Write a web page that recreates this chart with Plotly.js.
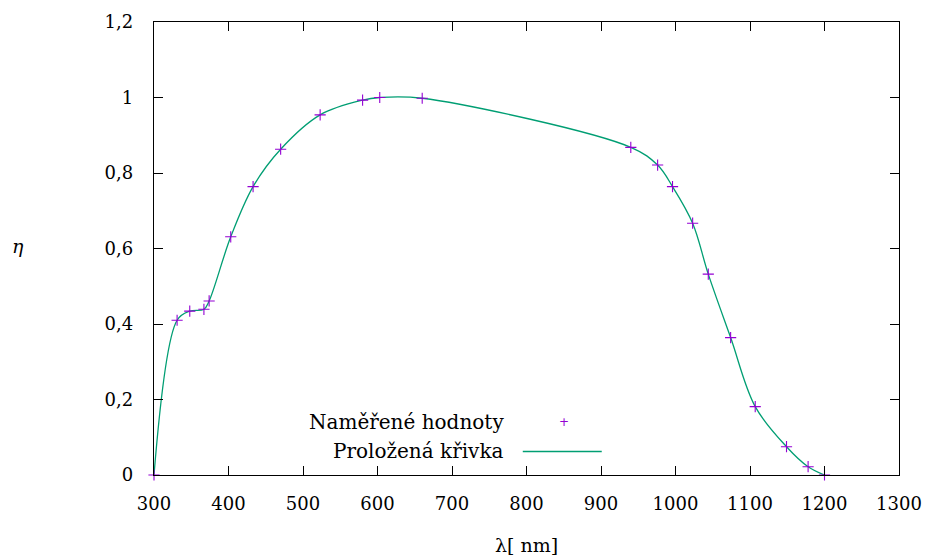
<!DOCTYPE html>
<html>
<head>
<meta charset="utf-8">
<script src="https://cdn.plot.ly/plotly-3.0.1.min.js"></script>
<style>html,body{margin:0;padding:0;background:#fff;}#chart{width:925px;height:559px;}</style>
</head>
<body>
<div id="chart"></div>
<script>
// Measured points (wavelength in nm, relative efficiency)
const wavelength = [300, 331, 348, 367, 374, 403, 433, 470, 523, 580, 603, 660, 940, 976, 996, 1023, 1044, 1074, 1107, 1149, 1178, 1200];
const efficiency = [0, 0.41, 0.434, 0.439, 0.461, 0.631, 0.764, 0.863, 0.954, 0.993, 1.0, 0.998, 0.868, 0.821, 0.764, 0.667, 0.532, 0.364, 0.181, 0.075, 0.022, 0];
const xTicks = [300, 400, 500, 600, 700, 800, 900, 1000, 1100, 1200, 1300];
const yTicks = [0, 0.2, 0.4, 0.6, 0.8, 1, 1.2];
const yTickLabels = ['0', '0,2', '0,4', '0,6', '0,8', '1', '1,2'];
const seriesNames = ['Naměřené hodnoty', 'Proložená křivka'];

const FONT = 'DejaVu Serif';
const PURPLE = '#9400d3';
const GREEN = '#009e73';

const traces = [
  {
    x: wavelength, y: efficiency, type: 'scatter', mode: 'lines',
    line: {shape: 'spline', smoothing: 1, color: GREEN, width: 1.3},
    name: seriesNames[1], showlegend: false, cliponaxis: false, hoverinfo: 'skip'
  },
  {
    x: wavelength, y: efficiency, type: 'scatter', mode: 'markers',
    marker: {symbol: 'cross-thin', size: 8, line: {color: PURPLE, width: 1.1}, color: PURPLE},
    name: seriesNames[0], showlegend: false, cliponaxis: false
  }
];

const layout = {
  width: 925, height: 559,
  margin: {l: 154, r: 26, t: 22, b: 84},
  paper_bgcolor: '#fff', plot_bgcolor: '#fff',
  font: {family: FONT, size: 18, color: '#000'},
  showlegend: false,
  xaxis: {
    range: [300, 1300], tickvals: xTicks, ticktext: xTicks.map(String),
    ticks: 'inside', ticklen: 9, tickcolor: '#000', tickwidth: 1,
    showline: true, linecolor: '#000', linewidth: 1.2, mirror: 'ticks',
    showgrid: false, zeroline: false, ticklabelstandoff: 12,
    tickfont: {family: FONT, size: 18}
  },
  yaxis: {
    range: [0, 1.2], tickvals: yTicks, ticktext: yTickLabels,
    ticks: 'inside', ticklen: 9, tickcolor: '#000', tickwidth: 1,
    showline: true, linecolor: '#000', linewidth: 1.2, mirror: 'ticks',
    showgrid: false, zeroline: false, ticklabelstandoff: 16,
    tickfont: {family: FONT, size: 18}
  },
  annotations: [
    {text: 'λ[ nm]', xref: 'paper', yref: 'paper', x: 0.5, y: -0.155, yanchor: 'middle', xanchor: 'center', showarrow: false, font: {family: FONT, size: 19}},
    {text: '<i>η</i>', xref: 'paper', yref: 'paper', x: -0.183, y: 0.505, xanchor: 'center', yanchor: 'middle', showarrow: false, font: {family: FONT, size: 19}},
    {text: seriesNames[0], xref: 'x', yref: 'paper', x: 773, y: (475 - 422) / 453, xanchor: 'right', yanchor: 'middle', showarrow: false, font: {family: FONT, size: 20}},
    {text: seriesNames[1], xref: 'x', yref: 'paper', x: 773, y: (475 - 451) / 453, xanchor: 'right', yanchor: 'middle', showarrow: false, font: {family: FONT, size: 20}},
    {text: '+', xref: 'x', yref: 'paper', x: 850, y: (475 - 422) / 453, xanchor: 'center', yanchor: 'middle', showarrow: false, font: {family: 'DejaVu Sans', size: 12, color: PURPLE}}
  ],
  shapes: [
    {type: 'line', xref: 'x', yref: 'paper', x0: 795, x1: 901, y0: (475 - 451.5) / 453, y1: (475 - 451.5) / 453, line: {color: GREEN, width: 1.3}}
  ]
};

Plotly.newPlot('chart', traces, layout, {staticPlot: true, displayModeBar: false});
</script>
</body>
</html>
